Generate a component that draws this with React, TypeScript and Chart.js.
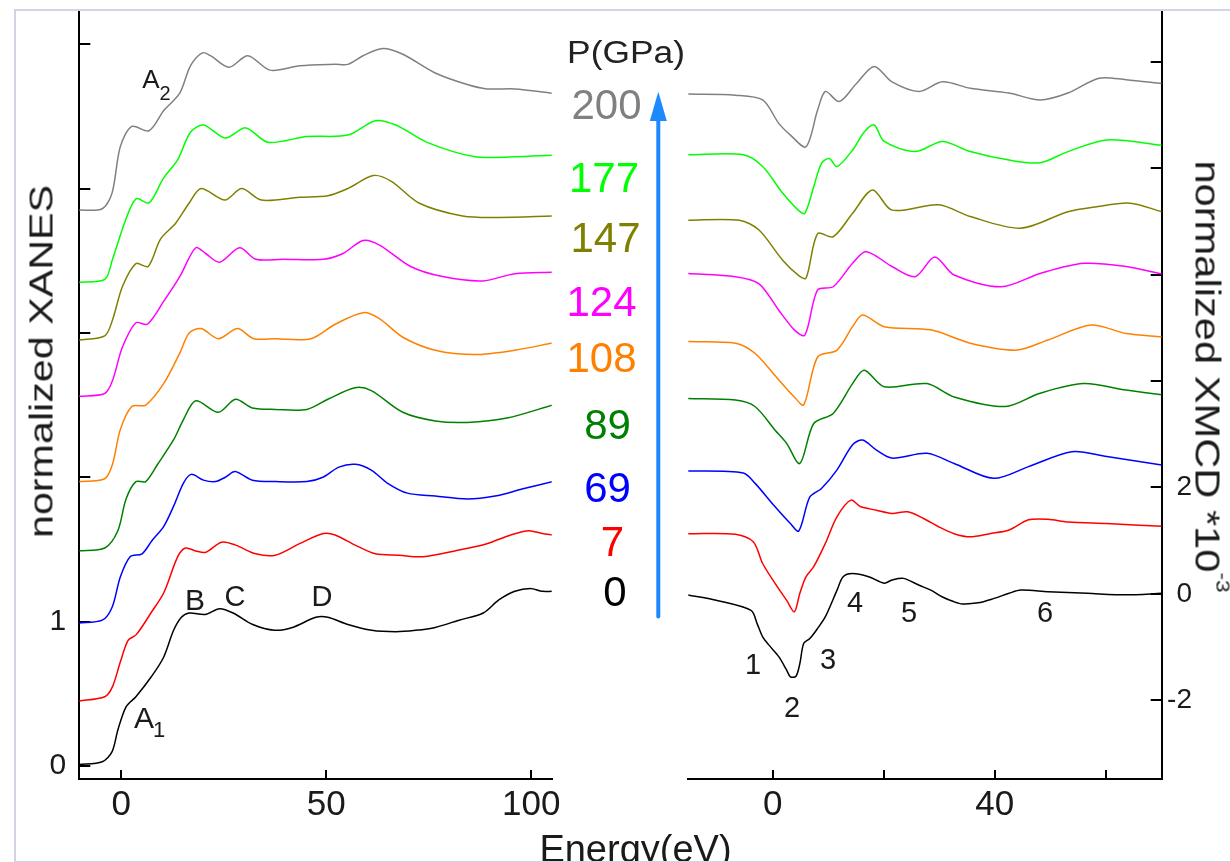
import React, { useEffect, useRef } from 'react';
import { Chart, registerables } from 'chart.js';

Chart.register(...registerables);

const FONT = '"Liberation Sans", Arial, Helvetica, sans-serif';

// ---------- series meta ----------
const pressureLabels = ['0', '7', '69', '89', '108', '124', '147', '177', '200'];
const seriesColors = ['#000000', '#ff0000', '#0000ff', '#008000', '#ff8000', '#ff00ff', '#808000', '#00ff00', '#808080'];

// ---------- XANES (left panel): energy (eV) and offset normalized absorption ----------
const xanesE_0 = [-10.4, -4.6, -2.2, -0.8, 1.2, 3.6, 7.4, 10.3, 12.8, 14.7, 16.6, 20.5, 24.0, 27.3, 32.1, 37.4, 41.8, 47.5, 50.4, 55.3, 61.1, 67.0, 71.8, 76.6, 82.4, 88.3, 92.1, 96.0, 99.8, 102.7, 105.2];
const xanes_0 = [0.01, 0.03, 0.10, 0.25, 0.41, 0.48, 0.62, 0.75, 0.94, 1.03, 1.06, 1.05, 1.09, 1.06, 0.98, 0.94, 0.96, 1.03, 1.03, 0.98, 0.94, 0.93, 0.94, 0.96, 1.01, 1.06, 1.15, 1.21, 1.23, 1.21, 1.21];

const xanesE_7 = [-10.4, -4, -2.1, -0.2, 1.7, 3.7, 7.5, 10.4, 13.8, 15.7, 18.2, 20.6, 24.5, 27.9, 32.8, 37.6, 43.5, 49.3, 52.2, 57.1, 62.0, 67.8, 73.6, 81.4, 89.2, 95.0, 99.4, 102.7, 105.2];
const xanes_7 = [0.45, 0.48, 0.55, 0.72, 0.87, 0.91, 1.07, 1.20, 1.45, 1.51, 1.49, 1.48, 1.55, 1.53, 1.47, 1.46, 1.54, 1.61, 1.60, 1.53, 1.47, 1.46, 1.45, 1.49, 1.54, 1.60, 1.63, 1.61, 1.60];

const xanesE_69 = [-10.4, -4.6, -2.2, -0.2, 2.2, 5.1, 7.5, 10.4, 12.8, 15.2, 17.1, 20.1, 23, 25.4, 27.8, 32, 37.6, 45.3, 49.2, 53.1, 57.1, 61, 64.9, 69.8, 76.6, 84.4, 91.2, 98, 105.2];
const xanes_69 = [0.99, 1.01, 1.10, 1.31, 1.45, 1.47, 1.56, 1.66, 1.80, 1.96, 2.02, 1.98, 1.97, 2.00, 2.04, 1.98, 1.97, 1.97, 2.00, 2.07, 2.09, 2.05, 1.96, 1.89, 1.87, 1.85, 1.87, 1.92, 1.97];

const xanesE_89 = [-10.4, -4, -0.8, 1.2, 3.6, 6, 8.9, 12.8, 15.2, 18.2, 23.7, 27.9, 32, 37.6, 45.3, 50.4, 57, 61, 68.7, 76.6, 84.4, 94.1, 105.2];
const xanes_89 = [1.49, 1.51, 1.63, 1.85, 1.97, 1.97, 2.09, 2.26, 2.40, 2.53, 2.45, 2.54, 2.48, 2.47, 2.47, 2.54, 2.62, 2.60, 2.45, 2.39, 2.38, 2.41, 2.50];

const xanesE_108 = [-10.4, -4, -2.1, -0.2, 2.6, 6, 10.4, 14.3, 16.6, 19.5, 23.7, 28.4, 32.3, 37.6, 46.3, 52.2, 59, 62.9, 68.7, 76.6, 86.3, 96, 105.2];
const xanes_108 = [1.97, 1.99, 2.09, 2.33, 2.49, 2.50, 2.65, 2.86, 3.00, 3.03, 2.96, 3.03, 2.96, 2.96, 2.96, 3.06, 3.14, 3.10, 2.97, 2.88, 2.85, 2.88, 2.93];

const xanesE_124 = [-10.4, -4, -2.1, 0.3, 3.6, 6.4, 10.4, 14.3, 18.2, 20.6, 24, 28.9, 32.8, 39.6, 49.3, 54.1, 59, 62.9, 70.6, 78.4, 88.2, 96, 105.2];
const xanes_124 = [2.56, 2.58, 2.67, 2.90, 3.07, 3.06, 3.22, 3.39, 3.59, 3.55, 3.49, 3.59, 3.51, 3.51, 3.51, 3.55, 3.64, 3.61, 3.46, 3.39, 3.36, 3.41, 3.42];

const xanesE_147 = [-10.4, -4, -2.1, 0.3, 3.6, 6.6, 9.6, 13.3, 16.6, 19.5, 25.3, 29.4, 34.2, 43.5, 50.4, 55.3, 61.5, 65.9, 72.6, 83.3, 92.1, 105.2];
const xanes_147 = [2.95, 2.98, 3.09, 3.32, 3.48, 3.46, 3.65, 3.76, 3.90, 4.00, 3.92, 4.00, 3.92, 3.94, 3.95, 4.00, 4.09, 4.05, 3.90, 3.81, 3.80, 3.81];

const xanesE_177 = [-10.4, -4, -2.1, 1.2, 3.7, 6.8, 10.3, 13.8, 16.9, 20.1, 25.4, 30.4, 35.8, 45.3, 55.3, 62, 67, 74.6, 86.3, 96, 105.2];
const xanes_177 = [3.35, 3.37, 3.51, 3.79, 3.93, 3.90, 4.07, 4.20, 4.39, 4.44, 4.35, 4.42, 4.32, 4.36, 4.37, 4.47, 4.44, 4.32, 4.22, 4.22, 4.23];

const xanesE_200 = [-10.4, -4.6, -2.2, -0.2, 2.6, 6.8, 10.4, 14.3, 16.9, 19.8, 21.8, 26.3, 30.9, 36.3, 43.6, 52.2, 55.3, 59, 63.8, 68.7, 76.6, 84.4, 89.2, 96, 105.2];
const xanes_200 = [3.85, 3.86, 3.97, 4.29, 4.43, 4.40, 4.54, 4.66, 4.85, 4.94, 4.92, 4.84, 4.92, 4.82, 4.85, 4.86, 4.86, 4.92, 4.97, 4.93, 4.80, 4.72, 4.69, 4.69, 4.66];

// ---------- XMCD (right panel): energy (eV) and offset XMCD (*10^-3) ----------
const xmcdE_0 = [-15.3, -10.2, -3.9, -2.8, -1.8, -0.7, 1.1, 2.5, 3.2, 4.2, 4.9, 5.6, 6.7, 8.1, 9.5, 11.6, 12.7, 14.4, 17.3, 20.1, 21.5, 23.6, 26.4, 28.5, 30.6, 32.7, 34.2, 37.0, 39.8, 42.6, 44.7, 49.6, 56.7, 63.7, 70.1];
const xmcd_0 = [-0.02, -0.12, -0.31, -0.56, -0.81, -0.96, -1.18, -1.43, -1.56, -1.55, -1.31, -0.93, -0.84, -0.65, -0.43, 0.07, 0.32, 0.38, 0.32, 0.20, 0.26, 0.29, 0.16, 0.07, -0.06, -0.15, -0.19, -0.17, -0.09, 0.01, 0.07, 0.04, 0.01, -0.02, 0.01];

const xmcdE_7 = [-15.3, -6.7, -3.5, -1.8, 0.4, 2.5, 3.9, 4.9, 6.0, 7.4, 9.5, 11.6, 14.1, 15.8, 18.7, 21.5, 24.3, 27.1, 29.9, 32.7, 35.6, 39.1, 42.6, 46.1, 49.6, 53.2, 60.2, 70.1];
const xmcd_7 = [1.13, 1.12, 0.98, 0.57, 0.20, -0.12, -0.34, 0.01, 0.32, 0.51, 0.95, 1.45, 1.76, 1.64, 1.57, 1.51, 1.54, 1.42, 1.26, 1.13, 1.07, 1.13, 1.20, 1.39, 1.40, 1.35, 1.32, 1.27];

const xmcdE_69 = [-15.3, -5.3, -3.2, 0.4, 3.2, 4.7, 6.7, 8.8, 11.6, 14.4, 16.2, 18.7, 21.5, 27.8, 32.7, 39.8, 46.1, 53.9, 60.2, 70.1];
const xmcd_69 = [2.31, 2.27, 2.08, 1.64, 1.32, 1.18, 1.82, 1.98, 2.33, 2.80, 2.89, 2.70, 2.55, 2.64, 2.45, 2.17, 2.39, 2.67, 2.58, 2.42];

const xmcdE_89 = [-15.3, -6.7, -3.2, 0.4, 2.5, 4.9, 7.4, 10.9, 14.4, 16.5, 20.1, 27.8, 32.7, 41.9, 48.2, 56.0, 63.7, 70.1];
const xmcd_89 = [3.67, 3.64, 3.52, 3.08, 2.83, 2.45, 3.20, 3.39, 3.95, 4.20, 3.89, 3.95, 3.70, 3.52, 3.77, 3.95, 3.83, 3.74];

const xmcdE_108 = [-15.3, -6.7, -3.2, 1.1, 3.9, 5.6, 8.1, 11.6, 14.4, 16.2, 20.1, 28.5, 35.6, 44.0, 49.6, 57.4, 63.7, 70.1];
const xmcd_108 = [4.74, 4.71, 4.52, 4.02, 3.70, 3.55, 4.45, 4.58, 5.02, 5.24, 5.02, 4.96, 4.71, 4.58, 4.77, 5.05, 4.89, 4.83];

const xmcdE_124 = [-15.3, -6.7, -2.5, 1.1, 3.9, 5.8, 8.1, 10.9, 14.4, 16.9, 21.5, 25.7, 29.2, 32.7, 41.2, 48.2, 56.0, 63.7, 70.1];
const xmcd_124 = [6.02, 5.96, 5.83, 5.33, 4.96, 4.86, 5.71, 5.77, 6.21, 6.43, 6.15, 5.96, 6.33, 5.99, 5.77, 6.02, 6.21, 6.15, 6.01];

const xmcdE_147 = [-15.3, -6.0, -2.5, 1.8, 4.6, 6.0, 8.1, 10.9, 14.4, 18.0, 21.5, 29.9, 35.6, 44.7, 53.2, 58.1, 64.4, 70.1];
const xmcd_147 = [7.02, 7.02, 6.84, 6.27, 5.99, 5.93, 6.77, 6.71, 7.15, 7.59, 7.21, 7.31, 7.09, 6.87, 7.18, 7.27, 7.34, 7.18];

const xmcdE_177 = [-15.3, -5.3, -1.8, 1.8, 4.6, 5.8, 7.4, 8.8, 10.2, 11.6, 14.4, 16.5, 18.3, 20.1, 25.7, 30.6, 35.6, 42.6, 48.2, 53.2, 60.2, 70.1];
const xmcd_177 = [8.25, 8.25, 8.03, 7.53, 7.21, 7.15, 7.65, 8.09, 8.18, 8.03, 8.34, 8.68, 8.81, 8.50, 8.31, 8.50, 8.31, 8.15, 8.10, 8.31, 8.53, 8.43];

const xmcdE_200 = [-15.3, -6.7, -1.8, 1.1, 3.2, 6.0, 8.1, 9.5, 12.0, 15.1, 18.3, 21.5, 26.4, 30.6, 35.6, 42.6, 48.2, 53.2, 58.8, 63.7, 70.1];
const xmcd_200 = [9.39, 9.37, 9.28, 8.84, 8.62, 8.40, 9.09, 9.44, 9.25, 9.59, 9.91, 9.62, 9.44, 9.62, 9.50, 9.41, 9.28, 9.41, 9.69, 9.66, 9.59];

// ---------- axis ticks ----------
const xanesYTickLabels = [0, 1];
const xmcdYTickLabels = [-2, 0, 2];
const xmcdXTickLabels = [0, 40];

const xanesSeries = [
  [xanesE_0, xanes_0], [xanesE_7, xanes_7], [xanesE_69, xanes_69], [xanesE_89, xanes_89],
  [xanesE_108, xanes_108], [xanesE_124, xanes_124], [xanesE_147, xanes_147], [xanesE_177, xanes_177], [xanesE_200, xanes_200],
];
const xmcdSeries = [
  [xmcdE_0, xmcd_0], [xmcdE_7, xmcd_7], [xmcdE_69, xmcd_69], [xmcdE_89, xmcd_89],
  [xmcdE_108, xmcd_108], [xmcdE_124, xmcd_124], [xmcdE_147, xmcd_147], [xmcdE_177, xmcd_177], [xmcdE_200, xmcd_200],
];

function makeDatasets(series: number[][][]) {
  return series.map(([es, vs], i) => ({
    label: pressureLabels[i] + ' GPa',
    data: es.map((x, j) => ({ x, y: vs[j] })),
    borderColor: seriesColors[i],
    borderWidth: 1.5,
    pointRadius: 0,
    fill: false,
    tension: 0.3,
  }));
}

const axisCommon = (tickLen: number) => ({
  type: 'linear' as const,
  border: { display: true, color: '#000', width: 2 },
  grid: { drawOnChartArea: false, drawTicks: true, tickLength: tickLen, color: '#000', tickColor: '#000', tickWidth: 2, lineWidth: 2 },
});

const zeroPad = (s: any) => {
  s.paddingTop = 0;
  s.paddingBottom = 0;
  s.paddingLeft = 0;
  s.paddingRight = 0;
};

function Label(props: { x: number; base: number; size: number; color?: string; sx?: number; children: React.ReactNode }) {
  const { x, base, size, color = '#1a1a1a', sx = 1, children } = props;
  return (
    <div
      style={{
        position: 'absolute', left: x - 200, width: 400, top: base - 0.8465 * size, height: size,
        lineHeight: size + 'px', fontSize: size, fontFamily: FONT, color, textAlign: 'center',
        whiteSpace: 'nowrap', transform: `scaleX(${sx})`,
      }}
    >
      {children}
    </div>
  );
}

export default function App() {
  const leftRef = useRef<HTMLCanvasElement | null>(null);
  const rightRef = useRef<HTMLCanvasElement | null>(null);

  useEffect(() => {
    const left = new Chart(leftRef.current as HTMLCanvasElement, {
      type: 'line',
      data: { datasets: makeDatasets(xanesSeries) as any },
      options: {
        responsive: false,
        animation: false,
        devicePixelRatio: 1,
        layout: { padding: { left: 0, top: 9.5, right: 48.3, bottom: 0 } },
        plugins: { legend: { display: false }, tooltip: { enabled: false } },
        scales: {
          x: {
            ...axisCommon(-9),
            min: -10.2, max: 105,
            afterFit: (s: any) => { s.height = 83; zeroPad(s); },
            ticks: { stepSize: 50, includeBounds: false, autoSkip: false, maxRotation: 0, padding: 14.5, color: '#1a1a1a', font: { family: FONT, size: 35 } },
          },
          y: {
            ...axisCommon(-11),
            min: -0.09, max: 5.24,
            afterFit: (s: any) => { s.width = 79.3; zeroPad(s); },
            ticks: {
              stepSize: 1, includeBounds: false, autoSkip: false, padding: 24, color: '#1a1a1a',
              font: { family: FONT, size: 30 },
              callback: (v: any) => (xanesYTickLabels.includes(Number(v)) ? String(v) : ''),
            },
          },
        },
      } as any,
    });

    const right = new Chart(rightRef.current as HTMLCanvasElement, {
      type: 'line',
      data: { datasets: makeDatasets(xmcdSeries) as any },
      options: {
        responsive: false,
        animation: false,
        devicePixelRatio: 1,
        layout: { padding: { left: 88.3, top: 9.5, right: 8, bottom: 0 } },
        plugins: { legend: { display: false }, tooltip: { enabled: false } },
        scales: {
          x: {
            ...axisCommon(-9),
            min: -15.2, max: 70.1,
            afterFit: (s: any) => { s.height = 83; zeroPad(s); },
            ticks: {
              stepSize: 20, includeBounds: false, autoSkip: false, maxRotation: 0, padding: 14.5, color: '#1a1a1a',
              font: { family: FONT, size: 35 },
              callback: (v: any) => (xmcdXTickLabels.includes(Number(v)) ? String(v) : ''),
            },
          },
          y: {
            ...axisCommon(-11),
            position: 'right',
            min: -3.48, max: 10.98,
            afterFit: (s: any) => { s.width = 30.3; zeroPad(s); },
            ticks: {
              stepSize: 2, includeBounds: false, autoSkip: false, crossAlign: 'far', padding: 10, color: '#1a1a1a',
              font: { family: FONT, size: 28 },
              callback: (v: any) => (xmcdYTickLabels.includes(Number(v)) ? String(v) : ''),
            },
          },
        },
      } as any,
    });

    return () => {
      left.destroy();
      right.destroy();
    };
  }, []);

  const pLabelPos = [
    { x: 615, base: 607 },
    { x: 612.5, base: 557 },
    { x: 607.5, base: 503 },
    { x: 607.5, base: 440 },
    { x: 601.5, base: 373 },
    { x: 601.5, base: 316.7 },
    { x: 605.5, base: 253 },
    { x: 604, base: 193 },
    { x: 606.5, base: 120 },
  ];

  return (
    <div style={{ position: 'fixed', left: 0, top: 0, width: 1230, height: 862, overflow: 'hidden', background: '#fff' }}>
      <canvas ref={leftRef} width={600} height={862} style={{ position: 'absolute', left: 0, top: 0, width: 600, height: 862 }} />
      <canvas ref={rightRef} width={600} height={862} style={{ position: 'absolute', left: 600, top: 0, width: 600, height: 862 }} />

      {/* axis titles */}
      <div
        style={{
          position: 'absolute', left: 41 - 300, width: 600, top: 361 - 16.5, height: 33, lineHeight: '33px',
          fontSize: 33, fontFamily: FONT, color: '#1a1a1a', textAlign: 'center', whiteSpace: 'nowrap',
          transform: 'rotate(-90deg) scaleX(1.25)',
        }}
      >
        normalized XANES
      </div>
      <div
        style={{
          position: 'absolute', left: 1207.5 - 300, width: 600, top: 376.5 - 17.5, height: 35, lineHeight: '35px',
          fontSize: 35, fontFamily: FONT, color: '#1a1a1a', textAlign: 'center', whiteSpace: 'nowrap',
          transform: 'rotate(90deg) scaleX(1.19)',
        }}
      >
        normalized XMCD *10<span style={{ fontSize: 19, verticalAlign: '21px', lineHeight: 0 }}>-3</span>
      </div>
      <Label x={635.5} base={862.2} size={38}>Energy(eV)</Label>

      {/* pressure legend */}
      <Label x={626} base={63.3} size={31} sx={1.14} color="#222">P(GPa)</Label>
      {pressureLabels.map((p, i) => (
        <Label key={p} x={pLabelPos[i].x} base={pLabelPos[i].base} size={42} color={seriesColors[i]}>{p}</Label>
      ))}
      <svg width={1230} height={862} style={{ position: 'absolute', left: 0, top: 0 }}>
        <line x1={658.3} y1={616.5} x2={658.3} y2={112} stroke="#1e88ff" strokeWidth={4} strokeLinecap="round" />
        <polygon points="658.3,91.7 649.8,121 666.8,121" fill="#1e88ff" />
      </svg>

      {/* XANES feature labels */}
      <Label x={151} base={88} size={26}>A</Label>
      <Label x={165} base={100} size={20}>2</Label>
      <Label x={195} base={610} size={30}>B</Label>
      <Label x={235} base={607} size={29}>C</Label>
      <Label x={322} base={607} size={29}>D</Label>
      <Label x={144} base={728.7} size={30}>A</Label>
      <Label x={159} base={738} size={22}>1</Label>

      {/* XMCD feature labels */}
      <Label x={753} base={675} size={29}>1</Label>
      <Label x={792} base={718} size={29}>2</Label>
      <Label x={828} base={670} size={29}>3</Label>
      <Label x={855} base={613} size={29}>4</Label>
      <Label x={909} base={623} size={29}>5</Label>
      <Label x={1045} base={623} size={29}>6</Label>

      {/* page frame */}
      <div
        style={{
          position: 'absolute', left: 14, top: 8.5, width: 1300, height: 850,
          borderLeft: '2px solid #d0d4e6', borderTop: '2px solid #d0d4e6', borderBottom: '2px solid #d0d4e6',
          pointerEvents: 'none',
        }}
      />
    </div>
  );
}
